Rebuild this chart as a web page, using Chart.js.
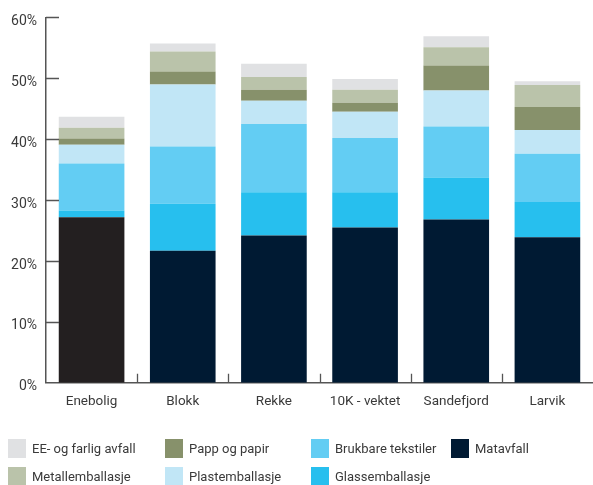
<!DOCTYPE html>
<html>
<head>
<meta charset="utf-8">
<script src="https://cdn.jsdelivr.net/npm/chart.js@4/dist/chart.umd.min.js"></script>
<style>
  html, body { margin: 0; padding: 0; background: #fff; }
  #wrap { position: relative; width: 593px; height: 485px; }
  #chartBox { position: absolute; left: 0; top: 0; width: 593px; height: 421px; }
  #legend { position: absolute; left: 0; top: 0; width: 593px; height: 485px; pointer-events: none;
            font-family: Roboto, sans-serif; font-size: 13px; color: #3a3a3a; }
  .item { position: absolute; display: flex; align-items: center; white-space: nowrap; }
  .swatch { width: 18px; height: 19px; margin-right: 6px; }
</style>
</head>
<body>
<div id="wrap">
  <div id="chartBox"><canvas id="chart"></canvas></div>
  <div id="legend"></div>
</div>
<script>
// Kategorier og verdier (% av restavfall)
const categories = ['Enebolig', 'Blokk', 'Rekke', '10K - vektet', 'Sandefjord', 'Larvik'];

const matavfall = [27.2, 21.7, 24.2, 25.5, 26.8, 23.9];
const glassemballasje = [1.1, 7.7, 7.1, 5.8, 6.9, 5.8];
const tekstiler = [7.7, 9.4, 11.2, 8.9, 8.4, 7.9];
const plastemballasje = [3.1, 10.2, 3.8, 4.3, 5.9, 3.9];
const pappPapir = [1.0, 2.1, 1.8, 1.5, 4.1, 3.8];
const metallemballasje = [1.8, 3.3, 2.1, 2.1, 3.0, 3.6];
const eeFarlig = [1.8, 1.3, 2.2, 1.8, 1.8, 0.6];

const yTicks = [0, 10, 20, 30, 40, 50, 60];

const NAVY = '#001a33';

const datasets = [
  { label: 'Matavfall', data: matavfall,
    backgroundColor: categories.map((c, i) => i === 0 ? '#231f20' : NAVY), legendColor: NAVY },
  { label: 'Glassemballasje', data: glassemballasje, backgroundColor: '#27bfee' },
  { label: 'Brukbare tekstiler', data: tekstiler, backgroundColor: '#63cdf3' },
  { label: 'Plastemballasje', data: plastemballasje, backgroundColor: '#c1e6f6' },
  { label: 'Papp og papir', data: pappPapir, backgroundColor: '#87916b' },
  { label: 'Metallemballasje', data: metallemballasje, backgroundColor: '#bac3aa' },
  { label: 'EE- og farlig avfall', data: eeFarlig, backgroundColor: '#e0e1e3' }
];

// Innvendige tick-merker på aksene
const innerTicks = {
  id: 'innerTicks',
  afterDraw(chart) {
    const c = chart.ctx;
    const x = chart.scales.x, y = chart.scales.y;
    c.save();
    c.strokeStyle = '#555';
    c.lineWidth = 1.3;
    c.beginPath();
    yTicks.forEach(v => {
      if (v === 0) return;
      const py = Math.round(y.getPixelForValue(v)) + 0.5;
      c.moveTo(x.left, py);
      c.lineTo(x.left + 13, py);
    });
    for (let i = 1; i < categories.length; i++) {
      const px = Math.round((x.getPixelForValue(i - 1) + x.getPixelForValue(i)) / 2) + 0.5;
      c.moveTo(px, y.bottom);
      c.lineTo(px, y.bottom - 9);
    }
    c.stroke();
    c.restore();
  }
};

new Chart(document.getElementById('chart'), {
  type: 'bar',
  data: { labels: categories, datasets: datasets },
  options: {
    responsive: true,
    maintainAspectRatio: false,
    animation: false,
    layout: { padding: { top: 5, right: 0, left: 0, bottom: 0 } },
    datasets: { bar: { categoryPercentage: 1, barPercentage: 0.72 } },
    scales: {
      x: {
        stacked: true,
        grid: { display: false, drawTicks: false },
        border: { display: true, color: '#555', width: 1.5 },
        ticks: { color: '#3a3a3a', padding: 11, font: { family: 'Roboto', size: 13.5 } }
      },
      y: {
        stacked: true,
        min: 0, max: 60,
        afterFit: s => { s.width = 46; },
        afterBuildTicks: s => { s.ticks = yTicks.map(v => ({ value: v })); },
        grid: { display: false, drawTicks: false },
        border: { display: true, color: '#555', width: 1.5 },
        ticks: { color: '#3a3a3a', padding: 9, labelOffset: 4,
                 font: { family: 'Roboto', size: 14 }, callback: v => v + '%' }
      }
    },
    plugins: { legend: { display: false }, tooltip: { enabled: false } }
  },
  plugins: [innerTicks]
});

// HTML-legende i samme rekkefølge som originalen
const legendOrder = [
  ['EE- og farlig avfall', 8, 439], ['Metallemballasje', 8, 467],
  ['Papp og papir', 165, 439], ['Plastemballasje', 165, 467],
  ['Brukbare tekstiler', 311, 439], ['Glassemballasje', 311, 467],
  ['Matavfall', 451, 439]
];
const legendEl = document.getElementById('legend');
legendOrder.forEach(([name, left, top]) => {
  const ds = datasets.find(d => d.label === name);
  const color = ds.legendColor || ds.backgroundColor;
  legendEl.innerHTML += `<div class="item" style="left:${left}px;top:${top}px">` +
    `<div class="swatch" style="background:${color}"></div><span>${name}</span></div>`;
});
</script>
</body>
</html>
